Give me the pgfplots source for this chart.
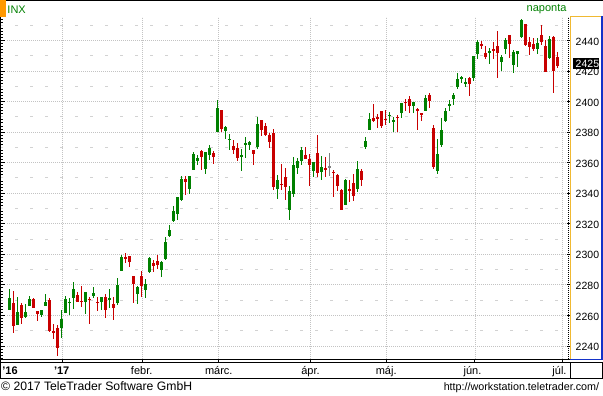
\documentclass[border=0pt]{standalone}
\usepackage{fontspec}
\setmainfont{Liberation Sans}
\usepackage{pgfplots}
\pgfplotsset{compat=1.18}
\usepackage{pgfplotstable}

\definecolor{cgreen}{RGB}{0,128,0}
\definecolor{cred}{RGB}{200,0,0}
\definecolor{cgray}{RGB}{128,128,128}
\definecolor{cgrid}{RGB}{195,195,195}
\definecolor{chalf}{RGB}{210,210,210}
\definecolor{corange}{RGB}{255,153,0}
\definecolor{cyell}{RGB}{240,185,50}
\definecolor{cblue}{RGB}{20,50,200}

\pgfplotstableread{
i o h l c
0 2263.4 2277.5 2263.4 2271.7
1 2268.4 2276.2 2248.4 2253.3
2 2253.8 2272.1 2253.8 2262.0
3 2266.8 2268.1 2254.2 2258.1
4 2259.2 2267.5 2258.2 2262.5
5 2266.5 2272.6 2266.1 2270.8
6 2270.5 2271.2 2265.2 2265.2
7 2262.9 2263.2 2256.1 2261.0
8 2260.3 2263.8 2258.8 2263.8
9 2266.2 2273.8 2266.2 2268.9
10 2270.2 2271.3 2249.1 2249.9
11 2249.5 2254.5 2244.6 2249.3
12 2251.6 2253.6 2233.6 2238.8
13 2251.6 2263.9 2245.1 2257.8
14 2261.6 2272.8 2261.6 2270.8
15 2268.2 2271.5 2260.5 2269.0
16 2271.1 2282.1 2264.1 2277.0
17 2273.6 2275.5 2268.9 2268.9
18 2269.7 2279.3 2265.3 2268.9
19 2268.6 2275.3 2260.8 2275.3
20 2271.1 2271.8 2254.3 2270.4
21 2272.7 2278.7 2271.5 2274.6
22 2269.1 2272.1 2262.8 2267.9
23 2269.1 2272.0 2263.4 2271.9
24 2271.9 2274.3 2258.4 2263.7
25 2270.0 2277.0 2265.0 2271.3
26 2267.8 2271.8 2257.0 2265.2
27 2267.9 2284.6 2266.7 2280.1
28 2288.9 2299.6 2288.9 2298.4
29 2298.6 2301.0 2294.1 2296.7
30 2299.0 2299.0 2291.6 2294.7
31 2286.0 2286.0 2268.0 2280.9
32 2274.0 2279.1 2267.2 2278.9
33 2285.6 2289.1 2272.4 2279.6
34 2276.7 2284.0 2271.7 2280.9
35 2288.5 2298.3 2287.9 2297.4
36 2294.3 2296.2 2288.6 2292.6
37 2295.9 2299.4 2290.2 2293.1
38 2289.6 2295.9 2285.4 2294.7
39 2296.7 2311.1 2296.6 2307.9
40 2312.3 2319.2 2311.1 2316.1
41 2321.7 2331.6 2321.4 2328.3
42 2326.1 2337.6 2322.2 2337.6
43 2335.6 2351.3 2334.8 2349.3
44 2349.6 2351.3 2338.9 2347.2
45 2343.0 2351.2 2339.6 2351.2
46 2354.9 2366.7 2354.9 2365.4
47 2361.1 2365.1 2358.3 2362.8
48 2367.5 2368.3 2355.1 2363.8
49 2355.7 2367.3 2352.9 2367.3
50 2365.2 2371.5 2361.9 2369.8
51 2366.1 2367.8 2359.0 2363.6
52 2380.1 2401.0 2380.1 2396.0
53 2394.8 2394.8 2380.2 2381.9
54 2380.9 2383.9 2375.4 2383.1
55 2375.2 2378.8 2368.0 2375.3
56 2370.7 2375.1 2365.5 2368.4
57 2369.8 2373.1 2361.0 2363.0
58 2363.5 2369.1 2354.5 2364.9
59 2372.5 2376.9 2363.0 2372.6
60 2371.6 2374.4 2368.5 2373.5
61 2368.6 2368.6 2358.2 2365.5
62 2370.3 2390.0 2368.9 2385.3
63 2387.7 2388.1 2377.2 2381.4
64 2383.7 2385.7 2377.6 2378.3
65 2378.2 2379.6 2369.7 2373.5
66 2379.3 2381.9 2341.9 2344.0
67 2343.0 2351.8 2336.5 2348.5
68 2346.0 2358.9 2342.1 2345.9
69 2350.4 2356.2 2335.7 2344.0
70 2329.1 2344.9 2322.3 2341.6
71 2339.8 2363.8 2337.6 2358.6
72 2356.5 2363.4 2352.9 2361.1
73 2361.3 2370.4 2358.6 2368.1
74 2364.8 2370.4 2362.6 2362.7
75 2362.3 2365.9 2344.7 2358.8
76 2354.8 2360.5 2350.7 2360.2
77 2366.6 2378.4 2350.5 2353.0
78 2353.8 2364.2 2348.9 2357.5
79 2356.6 2363.8 2350.7 2355.5
80 2357.2 2366.4 2351.5 2357.2
81 2353.9 2355.2 2337.3 2353.8
82 2352.2 2352.7 2341.2 2344.9
83 2342.0 2343.1 2329.0 2329.0
84 2332.6 2349.1 2332.5 2349.0
85 2342.5 2348.4 2334.5 2342.2
86 2346.8 2352.6 2335.1 2338.2
87 2342.7 2361.4 2340.9 2355.8
88 2354.7 2356.2 2344.5 2348.7
89 2370.3 2377.0 2369.2 2374.2
90 2381.5 2392.5 2381.2 2388.6
91 2389.0 2398.2 2386.8 2387.5
92 2389.7 2392.1 2382.7 2388.8
93 2393.7 2393.7 2382.4 2384.2
94 2388.5 2394.5 2384.8 2388.3
95 2391.1 2392.9 2385.8 2391.2
96 2386.5 2389.8 2379.8 2388.1
97 2389.8 2391.4 2380.4 2389.5
98 2392.4 2399.3 2389.4 2399.3
99 2399.9 2401.4 2393.9 2399.4
100 2401.6 2403.9 2392.4 2396.9
101 2396.8 2399.7 2392.8 2399.6
102 2394.8 2395.7 2381.7 2394.4
103 2392.4 2392.4 2387.2 2390.9
104 2394.0 2404.1 2393.9 2402.3
105 2404.6 2405.8 2396.1 2400.7
106 2383.0 2384.9 2356.2 2357.0
107 2354.7 2375.7 2352.7 2365.7
108 2371.4 2389.1 2370.4 2381.7
109 2387.2 2395.5 2386.9 2394.0
110 2397.0 2400.9 2393.9 2398.4
111 2401.4 2405.6 2398.0 2404.4
112 2409.5 2418.7 2408.0 2415.1
113 2414.5 2416.7 2412.2 2415.8
114 2411.7 2415.3 2409.4 2412.9
115 2415.6 2416.0 2403.6 2411.8
116 2415.7 2430.1 2413.5 2430.1
117 2431.3 2440.2 2427.7 2439.1
118 2437.8 2439.6 2434.3 2436.1
119 2431.9 2436.2 2428.1 2429.3
120 2432.0 2435.3 2424.8 2433.1
121 2434.3 2439.3 2427.9 2433.8
122 2436.4 2446.2 2415.7 2431.8
123 2425.9 2430.4 2420.0 2429.4
124 2434.2 2441.5 2431.3 2440.4
125 2443.8 2443.8 2428.3 2437.9
126 2424.1 2434.0 2418.5 2432.5
127 2431.2 2433.2 2422.9 2433.2
128 2442.6 2453.8 2441.8 2453.5
129 2450.7 2450.7 2436.6 2437.0
130 2439.3 2442.2 2430.7 2435.6
131 2437.4 2441.6 2433.3 2434.5
132 2434.7 2441.4 2431.1 2438.3
133 2443.3 2450.4 2437.0 2439.1
134 2436.3 2440.2 2419.4 2419.4
135 2428.7 2443.0 2428.0 2440.7
136 2442.4 2442.7 2405.7 2419.7
137 2429.2 2432.7 2421.7 2423.4
}\data

\newcommand{\lab}{\fontsize{10.5bp}{12bp}\selectfont}
\newcommand{\mon}{\fontsize{11bp}{13bp}\selectfont}

\pgfplotsset{
  candle/.style n args={2}{draw=none, mark=none, forget plot,
    error bars/.cd, y dir=both, y explicit, error mark=none,
    error bar style={draw=#1, line width=#2, solid}},
}

\begin{document}
\begin{tikzpicture}
\useasboundingbox (0,0) rectangle (603bp,396bp);
\begin{axis}[
  at={(1bp,37bp)}, anchor=south west,
  width=569bp, height=342bp, scale only axis,
  xmin=-2.075, xmax=140.175, ymin=2231.49, ymax=2455.38,
  axis line style={draw=none},
  xtick=\empty,
  ytick={2240,2260,...,2440}, yticklabels={},
  minor ytick={2232,2234,...,2454},
  ytick pos=left, tick align=inside,
  major tick length=4.5bp, minor tick length=2.5bp,
  tick style={black, line width=1bp},
  minor tick style={black, line width=1bp},
  clip=false,
]
\pgfplotsinvokeforeach{2250,2270,...,2450}{
  \draw[chalf, line width=1bp, dash pattern=on 3bp off 12bp, dash phase=1bp]
    (axis cs:-2.075,#1) -- (axis cs:139.5,#1);
}
\pgfplotsinvokeforeach{2240,2260,...,2440}{
  \draw[cgrid, line width=1bp, dash pattern=on 1bp off 1bp]
    (axis cs:-0.5,#1) -- (axis cs:139.5,#1);
}
\pgfplotsinvokeforeach{13.25,33.25,52.25,75.25,94.25,116.425,138.35}{
  \draw[cgrid, line width=1bp, dash pattern=on 1bp off 1bp]
    (axis cs:#1,2231.49) -- (axis cs:#1,2455.38);
}
% wicks
\addplot[restrict expr to domain={\thisrow{c}-\thisrow{o}}{0.0001:1000},
  candle={cgreen}{1bp}]
  table[x=i, y expr={(\thisrow{h}+\thisrow{l})/2}, y error expr={(\thisrow{h}-\thisrow{l})/2}] {\data};
\addplot[restrict expr to domain={\thisrow{c}-\thisrow{o}}{-1000:-0.0001},
  candle={cred}{1bp}]
  table[x=i, y expr={(\thisrow{h}+\thisrow{l})/2}, y error expr={(\thisrow{h}-\thisrow{l})/2}] {\data};
\addplot[restrict expr to domain={\thisrow{c}-\thisrow{o}}{-0.0001:0.0001},
  candle={cgray}{1bp}]
  table[x=i, y expr={(\thisrow{h}+\thisrow{l})/2}, y error expr={(\thisrow{h}-\thisrow{l})/2}] {\data};
% bodies
\addplot[restrict expr to domain={\thisrow{c}-\thisrow{o}}{0.0001:1000},
  candle={cgreen}{3bp}]
  table[x=i, y expr={(\thisrow{o}+\thisrow{c})/2}, y error expr={max(abs(\thisrow{c}-\thisrow{o})/2,0.33)}] {\data};
\addplot[restrict expr to domain={\thisrow{c}-\thisrow{o}}{-1000:-0.0001},
  candle={cred}{3bp}]
  table[x=i, y expr={(\thisrow{o}+\thisrow{c})/2}, y error expr={max(abs(\thisrow{c}-\thisrow{o})/2,0.33)}] {\data};
\addplot[restrict expr to domain={\thisrow{c}-\thisrow{o}}{-0.0001:0.0001},
  candle={cgray}{3bp}]
  table[x=i, y expr={(\thisrow{o}+\thisrow{c})/2}, y error expr={max(abs(\thisrow{c}-\thisrow{o})/2,0.33)}] {\data};
\end{axis}

\begin{scope}[x=1bp,y=1bp]
% top line and header
\draw[black, line width=1bp] (0,395.5) -- (603,395.5);
\fill[corange] (0,379.3) rectangle (5.7,396);
\node[anchor=base west, inner sep=0, text=cgreen, font=\mon] at (7.3,382.7) {INX};
\node[anchor=base east, inner sep=0, text=cgreen, font=\mon] at (566.7,384.3) {naponta};
% left border
\draw[black, line width=1bp] (0.5,17.2) -- (0.5,379.3);
% bottom lines
\draw[black, line width=1bp] (0,36.5) -- (570,36.5);
\draw[black, line width=1bp] (0,33.8) -- (603,33.8);
\draw[black, line width=1bp] (0,17.2) -- (603,17.2);
\draw[black, line width=1bp] (570.2,17.2) -- (570.2,33.8);
\draw[black, line width=1bp] (602.5,17.2) -- (602.5,33.8);
\foreach \xx in {62.3,142.3,218.3,310.3,386.3,474.0,562.7}{
  \draw[black, line width=1bp] (\xx,33.8) -- (\xx,36.5);
}
% right panel
\draw[black, line width=1.1bp, dash pattern=on 1bp off 1bp] (568.8,37) -- (568.8,379);
\draw[cyell, line width=1.2bp] (570.2,36.5) -- (570.2,379.3);
\draw[cyell, line width=1bp] (570,379.3) -- (601,379.3);
\draw[cblue, line width=2bp] (601.8,379.8) -- (601.8,36);
\draw[cblue, line width=1.2bp] (570,36.8) -- (603,36.8);
\foreach \v in {2240,2260,...,2440}{
  \draw[black, line width=1bp] (566.5,{37+(\v-2231.49)*1.5275}) -- (569.6,{37+(\v-2231.49)*1.5275});
  \node[anchor=base east, inner sep=0, font=\lab] at (599.3,{37+(\v-2231.49)*1.5275-4.6}) {\v};
}
\fill[black] (572.7,327) rectangle (599.3,337.7);
\node[anchor=base east, inner sep=0, font=\lab, text=white] at (599.3,328.4) {2425};
% month labels
\node[anchor=base, inner sep=0, font=\mon\bfseries] at (10.0,21.7) {'16};
\node[anchor=base, inner sep=0, font=\mon\bfseries] at (61.7,21.7) {'17};
\node[anchor=base, inner sep=0, font=\mon] at (141.7,21.7) {febr.};
\node[anchor=base, inner sep=0, font=\mon] at (218.8,21.7) {márc.};
\node[anchor=base, inner sep=0, font=\mon] at (310.5,21.7) {ápr.};
\node[anchor=base, inner sep=0, font=\mon] at (386.2,21.7) {máj.};
\node[anchor=base, inner sep=0, font=\mon] at (472.5,21.7) {jún.};
\node[anchor=base, inner sep=0, font=\mon] at (559.5,21.7) {júl.};
% footer
\node[anchor=base west, inner sep=0, font=\fontsize{12.2bp}{14bp}\selectfont] at (1,5.3) {© 2017 TeleTrader Software GmbH};
\node[anchor=base east, inner sep=0, font=\fontsize{10.75bp}{13bp}\selectfont] at (599.3,5.3) {http://workstation.teletrader.com/};
\end{scope}
\end{tikzpicture}
\end{document}
